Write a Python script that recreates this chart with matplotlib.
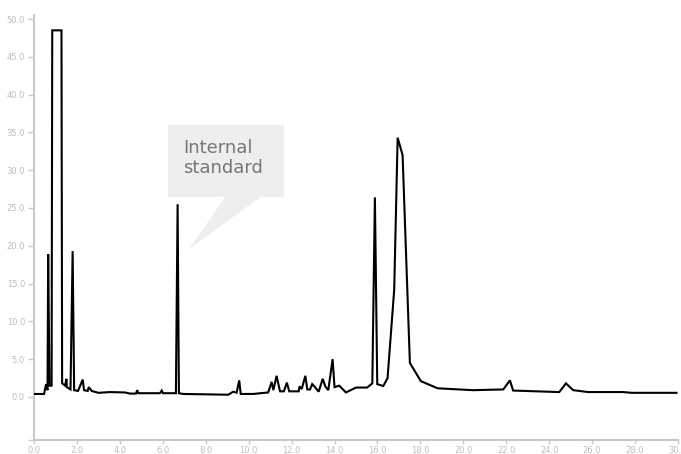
import matplotlib
matplotlib.use("Agg")
import matplotlib.pyplot as plt
from matplotlib.patches import Polygon, Rectangle

# retention time (min) and detector signal
time = [0.0, 0.47, 0.56, 0.63, 0.66, 0.72, 0.82, 0.85, 1.28, 1.31, 1.45, 1.51, 1.53,
        1.70, 1.80, 1.87, 2.05, 2.27, 2.33, 2.50, 2.55, 2.69, 3.00, 3.54, 4.24, 4.47,
        4.75, 4.81, 4.86, 5.87, 5.95, 6.01, 6.61, 6.69, 6.75, 6.95, 9.05, 9.28, 9.44,
        9.56, 9.63, 10.21, 10.91, 11.07, 11.15, 11.30, 11.46, 11.64, 11.78, 11.89,
        12.33, 12.37, 12.47, 12.64, 12.73, 12.86, 12.96, 13.09, 13.26, 13.45, 13.57,
        13.71, 13.91, 14.00, 14.22, 14.53, 15.00, 15.52, 15.76, 15.88, 15.99, 16.27,
        16.47, 16.78, 16.94, 17.17, 17.51, 18.02, 18.80, 20.46, 21.86, 22.17, 22.32,
        24.47, 24.78, 25.12, 25.82, 27.45, 27.84, 29.93]
signal = [0.4, 0.4, 1.7, 0.9, 18.9, 1.5, 1.5, 48.5, 48.5, 1.8, 1.5, 2.4, 1.3,
          1.0, 19.3, 0.9, 0.8, 2.3, 0.9, 0.8, 1.3, 0.8, 0.55, 0.65, 0.6, 0.45,
          0.45, 0.9, 0.5, 0.5, 0.85, 0.5, 0.5, 25.5, 0.5, 0.4, 0.3, 0.7, 0.57,
          2.2, 0.4, 0.4, 0.6, 2.0, 0.9, 2.8, 0.75, 0.75, 1.9, 0.75,
          0.75, 1.4, 1.05, 2.8, 1.0, 1.0, 1.7, 1.3, 0.7, 2.4, 1.4,
          0.9, 5.0, 1.3, 1.5, 0.6, 1.25, 1.25, 1.8, 26.4, 1.7, 1.45,
          2.5, 14.2, 34.3, 32.0, 4.5, 2.1, 1.15, 0.9, 1.0, 2.2, 0.85,
          0.65, 1.8, 0.9, 0.65, 0.65, 0.55, 0.55]

x_ticks = [0, 2, 4, 6, 8, 10, 12, 14, 16, 18, 20, 22, 24, 26, 28, 30]
y_ticks = [0, 5, 10, 15, 20, 25, 30, 35, 40, 45, 50]
note = "Internal\nstandard"

fig = plt.figure(figsize=(6.81, 4.54), dpi=100)
ax = fig.add_axes([34 / 681, 14 / 454, 644 / 681, 425 / 454])

ax.plot(time, signal, color="black", lw=1.5, solid_joinstyle="miter", zorder=3)

ax.set_xlim(0, 30)
ax.set_ylim(-5.69, 50.53)

axis_grey = "#c8c8c8"
for side in ("top", "right"):
    ax.spines[side].set_visible(False)
for side in ("left", "bottom"):
    ax.spines[side].set_color(axis_grey)
    ax.spines[side].set_linewidth(1.5)

ax.set_xticks(x_ticks)
ax.set_xticklabels([f"{v:.1f}" for v in x_ticks])
ax.set_yticks(y_ticks)
ax.set_yticklabels([f"{v:.1f}" for v in y_ticks])
ax.set_yticks([-5.69], minor=True)
ax.tick_params(axis="both", which="both", colors=axis_grey, labelcolor="#bdbdbd",
               labelsize=6, width=1, direction="out")
ax.tick_params(axis="x", length=3, pad=1)
ax.tick_params(axis="y", which="both", length=4, pad=2.5)

# callout box with a pointer towards the internal standard peak
box_col = "#eeeeee"
tf = ax.transData.inverted()
def px(x, y):
    return tf.transform((x, 454 - y))

x0, y0 = px(168, 196.5)
x1, y1 = px(284, 124.5)
ax.add_patch(Rectangle((x0, y0), x1 - x0, y1 - y0, facecolor=box_col,
                       edgecolor="none", zorder=1))
ax.add_patch(Polygon([px(226, 196), px(262, 196), px(189, 249)], closed=True,
                     facecolor=box_col, edgecolor="none", zorder=1))
tx, ty = px(183, 139)
ax.text(tx, ty, note, fontsize=13, color="#767676", ha="left", va="top",
        linespacing=1.15, zorder=2)

fig.savefig("out.png", dpi=100)
